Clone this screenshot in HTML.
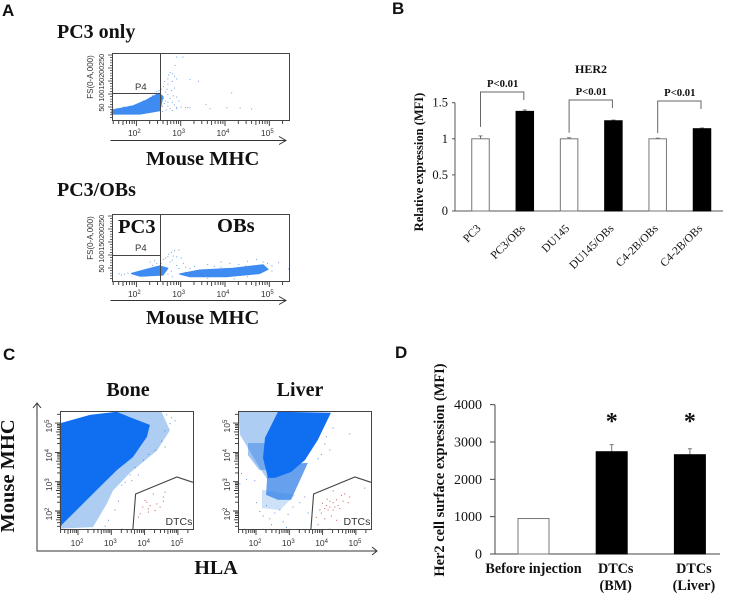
<!DOCTYPE html>
<html lang="en">
<head>
<meta charset="utf-8">
<title>HER2 expression figure</title>
<style>
html,body{margin:0;padding:0;background:#fff}
svg{display:block;filter:blur(0.35px)}
text{font-family:"Liberation Serif",serif;fill:#111}
.h{font-weight:bold}
.panel{font-family:"Liberation Sans",sans-serif;font-weight:bold;font-size:17px;fill:#111}
.sans{font-family:"Liberation Sans",sans-serif;fill:#333}
</style>
</head>
<body>
<svg id="fig" xmlns="http://www.w3.org/2000/svg" width="729" height="594" viewBox="0 0 729 594">
<rect width="729" height="594" fill="#fff"/>
<text class="panel" x="2" y="16">A</text>
<text class="panel" x="392" y="14">B</text>
<text class="panel" x="3" y="360">C</text>
<text class="panel" x="395" y="358">D</text>
<text class="h" x="57" y="38" font-size="20">PC3 only</text>
<text class="h" x="57" y="196" font-size="20">PC3/OBs</text>
<text class="h" x="146" y="165" font-size="20.5">Mouse MHC</text>
<text class="h" x="146" y="324" font-size="20.5">Mouse MHC</text>
<text class="h" x="118" y="233" font-size="20.5">PC3</text>
<text class="h" x="217" y="232" font-size="20.5">OBs</text>
<g fill="none" stroke="#333" stroke-width="1"><path d="M110.500 140.500H286M279 136.500L286 140.500L279 144.500"/></g>
<g fill="none" stroke="#333" stroke-width="1"><path d="M110.500 300.500H286M279 296.500L286 300.500L279 304.500"/></g>
<text class="h" x="128" y="396" font-size="20" text-anchor="middle">Bone</text>
<text class="h" x="300" y="396" font-size="20" text-anchor="middle">Liver</text>
<g fill="none" stroke="#333" stroke-width="1"><path d="M37 403.500V551H377M33 408L37 403L41 408M372 547L377 551L372 555"/></g>
<text class="h" transform="translate(14 476) rotate(-90)" font-size="20.5" text-anchor="middle">Mouse MHC</text>
<text class="h" x="216" y="574" font-size="20" text-anchor="middle">HLA</text>
<text class="h" x="591" y="73" font-size="12" text-anchor="middle">HER2</text>
<text class="h" transform="translate(423 162) rotate(-90)" font-size="12.500" text-anchor="middle">Relative expression (MFI)</text>
<text class="h" transform="translate(444 470) rotate(-90)" font-size="14.400" text-anchor="middle">Her2 cell surface expression (MFI)</text>
<g id="marks"></g>
</svg>
<script>
// Flow plot A1 (log10 mouse MHC, forward scatter)
var a1Cloud = [[1.45,38],[1.92,54],[2.23,77],[2.51,103],[2.6,90],[2.53,36],[2.08,23],[1.45,23]];
var a1Dots = [[2.55,120],[2.6,130],[2.65,110],[2.7,140],[2.72,175],[2.75,185],[2.8,180],[2.85,170],[2.9,160],[2.8,150],[2.7,100],[2.75,85],[2.65,75],[2.8,70],[2.85,60],[2.9,50],[2.95,75],[3,52],[2.9,45],[2.7,55],[2.75,45],[3.1,50],[3.15,50],[3.2,48],[3.2,158],[3.39,151],[4.14,106],[3.56,61],[3.65,45],[4.03,49],[4.33,49],[4.59,44],[2.9,244],[3.04,244],[2.86,212],[2.55,95],[2.6,85],[2.62,65],[2.58,55],[2.68,120],[2.78,115],[2.85,125],[2.62,150],[2.7,160],[2.82,95],[2.9,90],[2.7,70],[2.66,40],[2.58,35],[2.8,38],[2.4,105],[2.35,95],[2.3,88],[2.15,75],[2.0,62],[1.85,55],[1.7,52],[1.55,45],[2.5,115],[2.45,112]];
// Flow plot A2
var a2CloudLeft = [[1.89,29],[2.23,45],[2.53,58],[2.71,49],[2.6,23],[2.08,19]];
var a2CloudRight = [[2.98,27],[3.43,42],[4.18,49],[4.86,62],[4.97,45],[4.78,29],[4.03,17],[3.2,17]];
var a2Dots = [[1.6,30],[1.65,25],[1.72,28],[1.8,32],[2.3,75],[2.4,80],[2.45,70],[2.35,62],[2.6,85],[2.65,90],[2.72,105],[2.78,112],[2.85,118],[2.95,122],[2.7,95],[2.82,98],[2.9,95],[2.8,82],[2.75,75],[3,90],[3.05,70],[2.9,62],[2.95,50],[2.78,40],[2.7,28],[3.1,55],[3.2,50],[3.3,58],[3.6,65],[3.75,58],[3.9,75],[4.1,70],[4.3,65],[4.5,78],[4.7,85],[4.85,75],[5.05,60],[5.2,72],[5.05,40],[4.95,70],[4.45,60],[3.9,55],[3.6,12],[4.2,10],[4.5,18],[2.2,20],[2.55,70],[3.1,35],[2.8,18],[5.42,48]];
// Flow plot C Bone (log10 HLA, log10 mouse MHC)
var boneDense = [[1.45,4.99],[2.36,5.28],[3.16,5.39],[3.56,5.2],[4.16,4.94],[4.07,4.53],[3.65,3.84],[3.17,3.4],[2.66,2.83],[2.16,2.26],[1.56,1.58],[1.46,1.45]];
var boneFringe = [[1.45,1.4],[2.45,1.45],[2.87,2.26],[3.05,2.7],[3.56,3.3],[4.37,4.06],[4.76,4.75],[4.5,5.4],[3.3,5.42],[1.45,4.9]];
var boneDots = [[3.1,2.05],[2.9,1.7],[2.8,1.5],[3.3,1.4],[3.4,3.0],[3.55,3.25],[3.7,3.5],[3.95,3.75],[4.1,3.95],[4.3,4.1],[4.5,4.4],[4.6,4.75],[4.75,5.0],[4.8,5.2],[4.65,5.3],[3.2,2.35],[3.3,2.9],[3.8,3.25],[4.6,4.2],[4.9,5.1],[3.6,3.05]];
var boneRed = [[4.25,2.6],[4.6,2.66],[4.55,2.49],[4.05,2.32],[4.35,2.26],[3.85,1.92],[4.1,1.98],[3.8,1.81],[4,2.38],[4.15,2.2],[4.45,2.15],[4.3,2.03],[3.93,2.15],[4.1,2.09],[4.55,2.35]];
// Flow plot C Liver
var liverDense = [[2.66,5.39],[4.25,5.35],[3.86,4.43],[3.47,3.74],[3.05,3.33],[2.57,3.13],[2.36,3.13],[2.21,3.81],[2.27,4.5]];
var liverMid = [[2.36,3.57],[3.56,3.64],[3.05,2.38],[2.66,2.38],[2.3,2.55]];
var liverLeft = [[1.46,5.39],[2.66,5.39],[2.36,3.05],[2.15,3.4],[1.52,4.6]];
var liverCore = [[1.76,4.32],[2.36,4.32],[2.36,3.4],[2.1,3.4],[1.76,3.9]];
var liverLow = [[2.18,2.72],[3.17,2.55],[2.72,2.03],[2.18,2.1]];
var liverDots = [[1.55,3.3],[1.7,3.1],[1.95,3.05],[1.5,2.95],[2.0,2.3],[2.1,2.0],[2.2,1.85],[2.3,2.2],[2.4,1.75],[2.55,1.95],[2.7,2.05],[2.8,1.65],[2.95,1.9],[3.1,2.15],[3.3,2.3],[3.45,2.5],[3.55,1.95],[2.45,1.55],[2.9,1.45],[3.85,3.8],[3.95,3.95],[4.05,4.3],[4.2,4.1],[4.1,4.55],[4.3,4.85],[4.8,4.65],[1.65,1.4],[1.9,1.39],[2.2,1.39],[2.4,1.39],[2.6,1.39],[2.8,1.39],[3.0,1.39],[3.4,1.39]];
var liverRed = [[4.3,2.7],[4.55,2.55],[4.65,2.6],[4.2,2.35],[4.3,2.3],[4.4,2.4],[4.1,2.2],[4.15,2.05],[3.9,2.05],[3.95,1.95],[4.05,2.1],[4.2,2.15],[4.3,2.05],[4.45,2.2],[4.5,2.1],[4.6,2.35],[4.8,2.5],[3.8,1.8],[4.05,1.75],[4.25,1.85],[4.4,1.7],[3.85,1.55],[4.2,1.4],[5.25,2.8],[4.35,2.15],[3.98,2.28],[4.12,2.42],[4.75,2.3]];
var dtcGate = [[3.65,1.38],[3.73,2.58],[4.97,3.16],[5.45,2.98]];
// Chart B
var bCategories = ['PC3','PC3/OBs','DU145','DU145/OBs','C4-2B/OBs','C4-2B/OBs'];
var bValues = [1,1.38,1,1.25,1,1.14];
var bErrors = [0.04,0.02,0.015,0.01,0.01,0.01];
var bFills = ['white','black','white','black','white','black'];
var bTicks = [0,0.5,1,1.5];
var bTickLabels = ['0','0.5','1','1.5'];
var bPValues = ['P<0.01','P<0.01','P<0.01'];
// Chart D
var dCategories = [['Before injection'],['DTCs','(BM)'],['DTCs','(Liver)']];
var dValues = [950,2740,2660];
var dErrors = [0,190,160];
var dFills = ['white','black','black'];
var dStars = ['','*','*'];
var dTicks = [0,1000,2000,3000,4000];

var NS = 'http://www.w3.org/2000/svg';
var root = document.getElementById('marks');
function mk(tag, attrs, parent) {
  var el = document.createElementNS(NS, tag);
  for (var k in attrs) el.setAttribute(k, attrs[k]);
  (parent || root).appendChild(el);
  return el;
}
function polyPts(arr, fx, fy) {
  return arr.map(function (p) { return fx(p[0]).toFixed(1) + ',' + fy(p[1]).toFixed(1); }).join(' ');
}
var BLUE = '#0f6ff0';

function logTicks(g, fx, y0, lo, hi, vertical, fy, x0) {
  var d = '';
  for (var e = 1; e <= 5; e++) {
    for (var m = 1; m <= 9; m++) {
      var v = e + Math.log10(m);
      if (v < lo || v > hi) continue;
      var len = m === 1 ? 5 : (m === 5 ? 4 : 3);
      if (vertical) { var y = fy(v); d += 'M' + x0 + ' ' + y.toFixed(1) + 'h' + (-len); }
      else { var x = fx(v); d += 'M' + x.toFixed(1) + ' ' + y0 + 'v' + len; }
    }
  }
  var t = mk('path', {d: d, stroke: '#333', 'stroke-width': 0.9, fill: 'none'}, g);
  
  
}
function powerLabel(g, x, y, exp, rot) {
  var t = mk('text', {'class': 'sans', x: x, y: y, 'font-size': 8.5, 'text-anchor': 'middle', transform: rot ? 'rotate(-90 ' + x + ' ' + y + ')' : ''}, g);
  
  
  t.textContent = '10';
  var s = mk('tspan', {dy: -3, 'font-size': 6}, t);
  s.textContent = exp;
}

// Panel A flow plots
function flowA(box, gateY, label, clouds, dots, labelY) {
  var fx = function (v) { return box.x0 + (v - 1.45) * 44.3; };
  var fy = function (v) { return box.y1 - v * 0.26; };
  var g = mk('g', {});
  
  
  clouds.forEach(function (c) {
    var p = mk('polygon', {points: polyPts(c, fx, fy), fill: BLUE, stroke: BLUE, 'stroke-width': 1.2, 'stroke-linejoin': 'round', opacity: 0.8}, g);
    
    
  });
  dots.forEach(function (d) {
    var r = mk('rect', {x: fx(d[0]).toFixed(1), y: fy(d[1]).toFixed(1), width: 1, height: 1, fill: '#3a80d8', opacity: 0.75}, g);
    
    
  });
  var b = mk('rect', {x: box.x0 + 0.5, y: box.y0 + 0.5, width: box.x1 - box.x0, height: box.y1 - box.y0, fill: 'none', stroke: '#444', 'stroke-width': 1}, g);
  
  
  var gate = mk('path', {d: 'M160.500 ' + box.y0 + 'V' + box.y1 + 'M' + box.x0 + ' ' + gateY + '.5H160.500', fill: 'none', stroke: '#444', 'stroke-width': 1}, g);
  
  
  var p4 = mk('text', {'class': 'sans', x: 135, y: labelY, 'font-size': 9.5}, g);
  
  
  p4.textContent = 'P4';
  logTicks(g, fx, box.y1 + 1, 1.47, 5.42);
  for (var e = 2; e <= 5; e++) powerLabel(g, fx(e) - 2, box.y1 + 16, e, false);
  var ty = '';
  for (var v = 10; v <= 250; v += 10) ty += 'M' + box.x0 + ' ' + fy(v).toFixed(1) + 'h' + (v % 50 === 0 ? -4 : -2);
  var tk = mk('path', {d: ty, stroke: '#333', 'stroke-width': 0.7, fill: 'none'}, g);
  
  
  var yl = mk('text', {'class': 'sans', 'font-size': 8, transform: 'translate(93 ' + (box.y1 - 43) + ') rotate(-90)', 'text-anchor': 'middle'}, g);
  
  
  yl.textContent = 'FS(0-A,000)';
  var yt = mk('text', {'class': 'sans', 'font-size': 7.5, transform: 'translate(104 ' + fy(32) + ') rotate(-90)', 'text-anchor': 'start', textLength: 58}, g);
  
  
  yt.textContent = '50 100150200250';
}
flowA({x0: 112, x1: 289, y0: 53, y1: 120}, 93, 'flow-plot-pc3-only', [a1Cloud], a1Dots, 90);
flowA({x0: 112, x1: 289, y0: 214, y1: 281}, 255, 'flow-plot-pc3-obs', [a2CloudLeft, a2CloudRight], a2Dots, 251);

// Panel C flow plots
function flowC(x0, label, layers, dots, red) {
  var fx = function (v) { return x0 + 18 + (v - 2) * 33.3; };
  var fy = function (v) { return 511 - (v - 2) * 29.3; };
  var g = mk('g', {});
  
  
  layers.forEach(function (l) {
    var p = mk('polygon', {points: polyPts(l.pts, fx, fy), fill: l.fill, opacity: l.op}, g);
    
    
  });
  dots.forEach(function (d) {
    var r = mk('rect', {x: fx(d[0]).toFixed(1), y: fy(d[1]).toFixed(1), width: 1, height: 1, fill: '#2f78c8', opacity: 0.8}, g);
    
    
  });
  red.forEach(function (d) {
    var r = mk('rect', {x: fx(d[0]).toFixed(1), y: fy(d[1]).toFixed(1), width: 1, height: 1, fill: '#b8403c', opacity: 0.85}, g);
    
    
  });
  var b = mk('rect', {x: x0 + 0.5, y: 411.5, width: 133, height: 118, fill: 'none', stroke: '#444', 'stroke-width': 1}, g);
  
  
  var gate = mk('polyline', {points: polyPts(dtcGate, fx, fy), fill: 'none', stroke: '#444', 'stroke-width': 1.1}, g);
  
  
  var t = mk('text', {'class': 'sans', x: x0 + 105.5, y: 525, 'font-size': 10.5}, g);
  
  
  t.textContent = 'DTCs';
  logTicks(g, fx, 530, 1.47, 5.42);
  logTicks(g, null, 0, 1.38, 5.4, true, fy, x0);
  for (var e = 2; e <= 5; e++) powerLabel(g, fx(e) - 1, 546, e, false);
  for (var e2 = 2; e2 <= 5; e2++) powerLabel(g, x0 - 8, fy(e2) + 3, e2, true);
}
var fringe = '#5b9be8';
flowC(60, 'flow-plot-bone', [{pts: boneFringe, fill: fringe, op: 0.5}, {pts: boneDense, fill: BLUE, op: 1}], boneDots, boneRed);
flowC(238, 'flow-plot-liver', [{pts: liverLeft, fill: fringe, op: 0.5}, {pts: liverCore, fill: '#2d7de6', op: 0.45}, {pts: liverLow, fill: fringe, op: 0.3}, {pts: liverMid, fill: '#2d7de6', op: 0.72}, {pts: liverDense, fill: BLUE, op: 1}], liverDots, liverRed);

// Chart B
var bY = function (v) { return 211 - v * 72.2; };
var bX = function (i) { return 480.5 + i * 44.3; };
var bw = 17.5;
var axB = mk('path', {d: 'M455 102.700V211H723', stroke: '#555', 'stroke-width': 1, fill: 'none'});


bTicks.forEach(function (v, i) {
  var tk = mk('line', {x1: 452, x2: 455, y1: bY(v), y2: bY(v), stroke: '#555', 'stroke-width': 1});
  
  
  var t = mk('text', {x: 448, y: bY(v) + 4, 'font-size': 12.5, 'text-anchor': 'end', fill: '#222'});
  
  
  t.textContent = bTickLabels[i];
});
bValues.forEach(function (v, i) {
  var x = bX(i);
  var er = mk('line', {x1: x, x2: x, y1: bY(v), y2: bY(v + bErrors[i]), stroke: '#666', 'stroke-width': 1});
  
  
  var cap = mk('line', {x1: x - 2, x2: x + 2, y1: bY(v + bErrors[i]), y2: bY(v + bErrors[i]), stroke: '#666', 'stroke-width': 0.8});
  
  
  var r = mk('rect', {x: x - bw / 2, y: bY(v), width: bw, height: bY(0) - bY(v), fill: bFills[i], stroke: bFills[i] === 'white' ? '#777' : '#000', 'stroke-width': 1});
  
  
  var t = mk('text', {'font-size': 11.5, 'text-anchor': 'end', fill: '#222', transform: 'translate(' + (x + 1) + ' 229) rotate(-45)'});
  
  
  t.textContent = bCategories[i];
});
bPValues.forEach(function (label, k) {
  var i = k * 2;
  var xa = bX(i), xb = bX(i + 1);
  var top = k === 0 ? 92 : (k === 1 ? 100 : 101);
  var br = mk('path', {d: 'M' + xa + ' ' + (bY(bValues[i] + bErrors[i]) - (k === 0 ? 9 : 5)) + 'V' + top + 'H' + (xb - 1) + 'V' + (top + 8), fill: 'none', stroke: '#666', 'stroke-width': 1});
  
  
  var t = mk('text', {'class': 'h', x: (xa + xb) / 2, y: top - 5, 'font-size': 10.7, 'text-anchor': 'middle'});
  
  
  t.textContent = label;
});

// Chart D
var dY = function (v) { return 554 - v * 0.03733; };
var dX = function (i) { return 533.500 + i * 78.2; };
var dw = 31;
var axD = mk('path', {d: 'M495 404.700V554H720', stroke: '#444', 'stroke-width': 1, fill: 'none'});


dTicks.forEach(function (v) {
  var tk = mk('line', {x1: 490, x2: 495, y1: dY(v), y2: dY(v), stroke: '#444', 'stroke-width': 1});
  
  
  var t = mk('text', {x: 482, y: dY(v) + 4.5, 'font-size': 14, 'text-anchor': 'end', fill: '#222'});
  
  
  t.textContent = String(v);
});
dValues.forEach(function (v, i) {
  var x = dX(i);
  if (dErrors[i] > 0) {
    var er = mk('path', {d: 'M' + x + ' ' + dY(v) + 'V' + dY(v + dErrors[i]) + 'M' + (x - 2) + ' ' + dY(v + dErrors[i]) + 'h4', stroke: '#777', 'stroke-width': 1, fill: 'none'});
    
    
  }
  var r = mk('rect', {x: x - dw / 2, y: dY(v), width: dw, height: dY(0) - dY(v), fill: dFills[i], stroke: dFills[i] === 'white' ? '#777' : '#000', 'stroke-width': 1});
  
  
  if (dStars[i]) {
    var s = mk('text', {'class': 'h', x: x, y: 429, 'font-size': 24, 'text-anchor': 'middle'});
    
    
    s.textContent = dStars[i];
  }
  dCategories[i].forEach(function (line, j) {
    var t = mk('text', {'class': 'h', x: i === 0 ? x : x + 4, y: 573 + j * 17, 'font-size': 14.2, 'text-anchor': 'middle'});
    
    
    t.textContent = line;
  });
});
</script>
</body>
</html>
